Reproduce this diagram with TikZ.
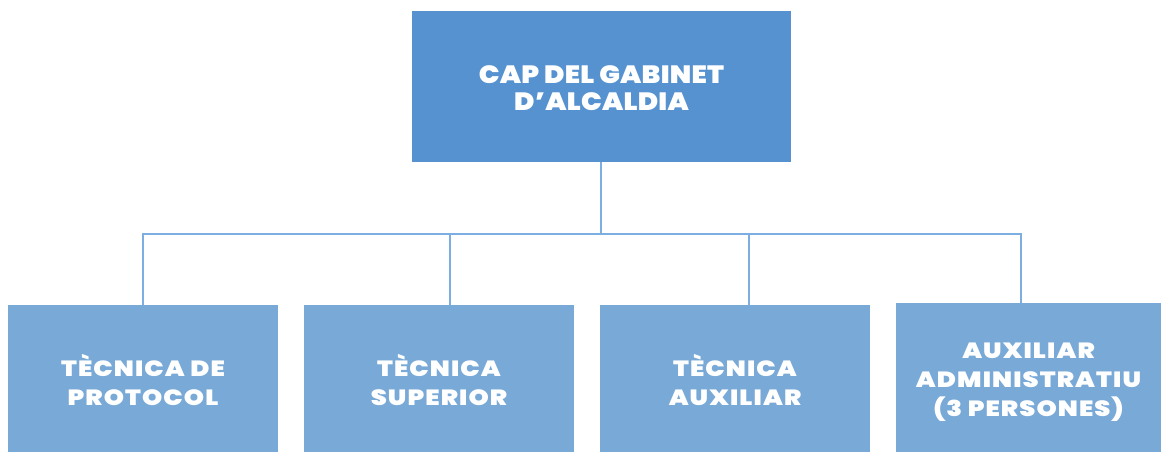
\documentclass[tikz,border=0pt]{standalone}
\usepackage{fontspec}
\setmainfont{Poppins}[BoldFont={Poppins Black}]
\newfontfamily\headfont{Poppins Black}[FakeStretch=1.1,LetterSpace=1]
\newfontfamily\subfont{Poppins Black}[FakeStretch=1.17,LetterSpace=5]
\definecolor{topblue}{HTML}{5592CF}
\definecolor{subblue}{HTML}{79A9D7}
\definecolor{linkblue}{HTML}{7DAEE2}
\begin{document}
\begin{tikzpicture}[x=1pt,y=-1pt,
  topbox/.style={fill=topblue,draw=none,text=white,font=\headfont\fontsize{25}{27}\selectfont,align=center},
  subbox/.style={fill=subblue,draw=none,text=white,font=\subfont\fontsize{22}{29}\selectfont,align=center},
  link/.style={draw=linkblue,line width=1.2pt}]
\useasboundingbox (0,0) rectangle (1161,452);
\fill[topblue] (412,11) rectangle (791,162);
\node[topbox] (cap) at (601.5,88) {CAP DEL GABINET\\D’ALCALDIA};
\fill[subblue] (8,305) rectangle (278,452);
\fill[subblue] (304,305) rectangle (574,452);
\fill[subblue] (600,305) rectangle (870,452);
\fill[subblue] (896,303) rectangle (1161,452);
\node[subbox] (a) at (143,380) {TÈCNICA DE\\PROTOCOL};
\node[subbox] (b) at (439,380) {TÈCNICA\\SUPERIOR};
\node[subbox] (c) at (735,380) {TÈCNICA\\AUXILIAR};
\node[subbox] (d) at (1028.5,382) {AUXILIAR\\ADMINISTRATIU\\(3 PERSONES)};
\coordinate (ctop) at (601,162);
\coordinate (bus) at (601,234);
\coordinate (t1) at (143,305);
\coordinate (t2) at (450,305);
\coordinate (t3) at (749,305);
\coordinate (t4) at (1021,303);
\draw[link] (ctop) -- (bus);
\draw[link] (t1) |- (bus) -| (t4);
\draw[link] (t2) -- (t2 |- bus);
\draw[link] (t3) -- (t3 |- bus);
\end{tikzpicture}
\end{document}
